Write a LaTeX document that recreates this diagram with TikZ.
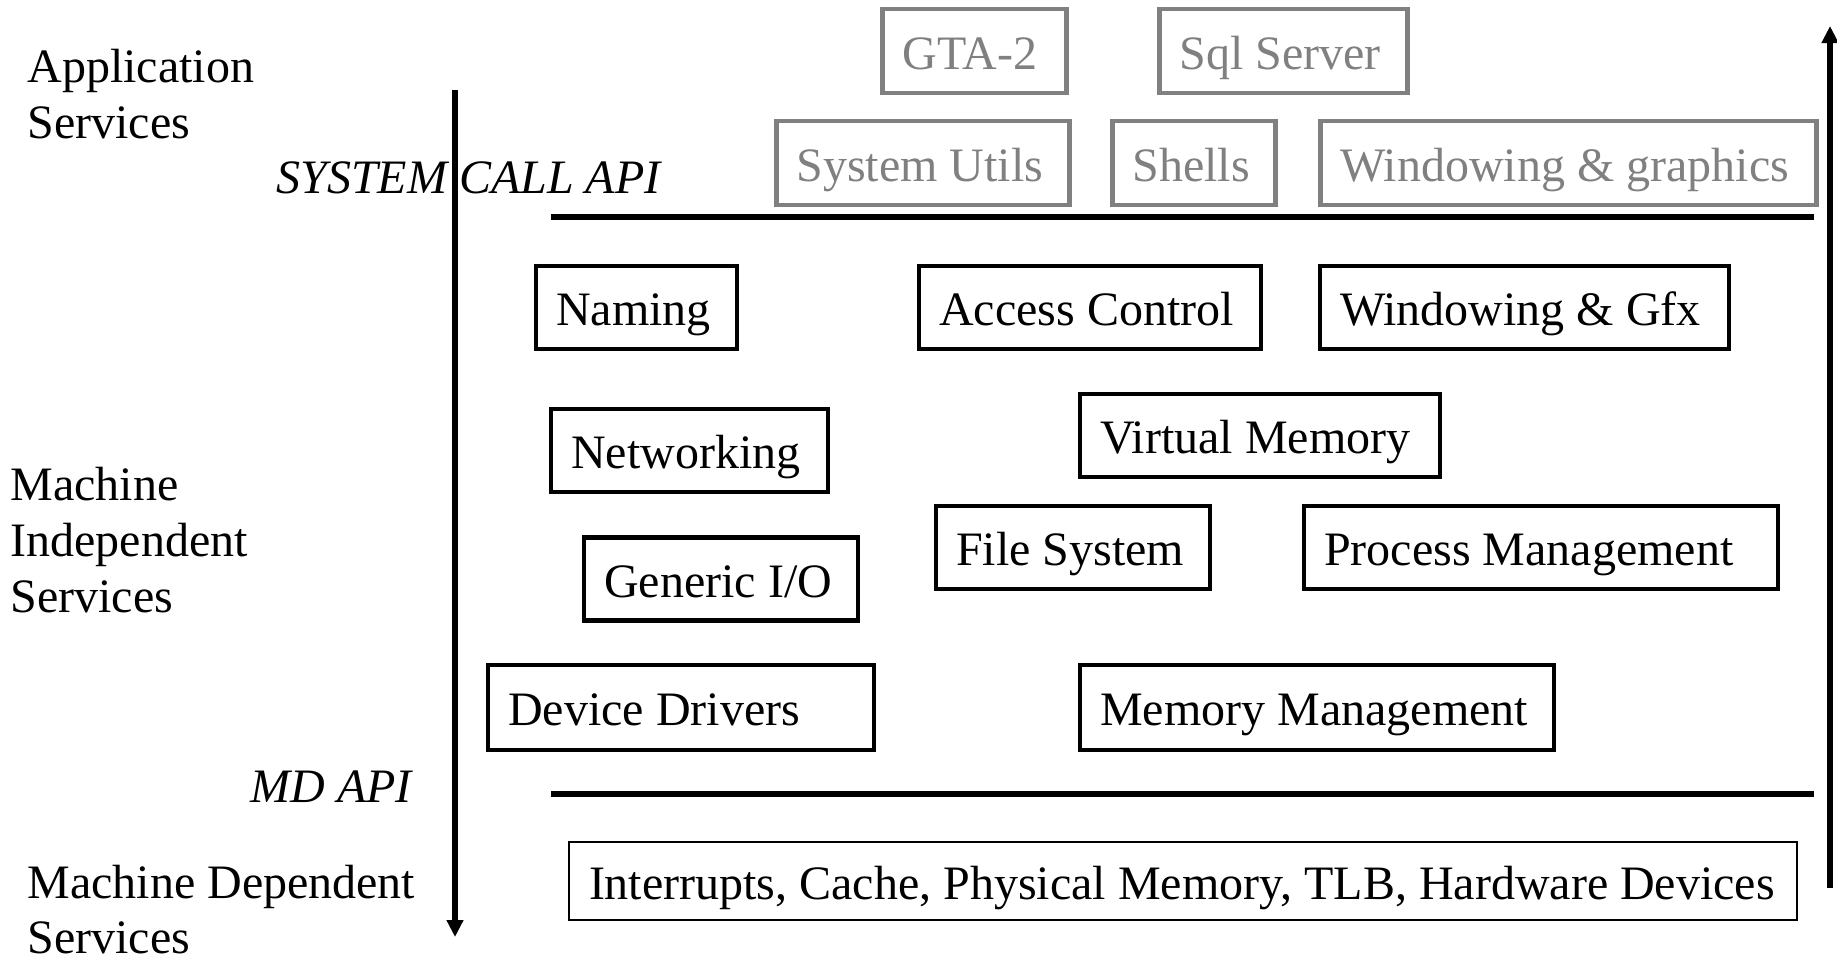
\documentclass[tikz,border=0pt]{standalone}
\usepackage{fontspec}
\setmainfont{Liberation Serif}
\usetikzlibrary{arrows.meta}
\definecolor{boxgray}{RGB}{128,128,128}
\newcommand{\bx}[7]{%
  \pgfmathsetmacro\bxtw{#4*0.5-20}%
  \node[#7, minimum width=#4*0.5pt, minimum height=#5*0.5pt] (#1) at (#2,#3) {\makebox[\bxtw pt][l]{#6}};}
\begin{document}
\begin{tikzpicture}[x=0.5pt, y=-0.5pt,
  basebox/.style={anchor=west, inner xsep=10pt, inner ysep=0pt,
    text height=19.5pt, text depth=1.5pt, font=\fontsize{24}{28}\selectfont},
  gbox/.style={basebox, draw=boxgray, text=boxgray, line width=2.4pt},
  bbox/.style={basebox, draw=black, line width=2.1pt},
  hwbox/.style={basebox, draw=black, line width=1pt},
  lbl/.style={anchor=base west, inner sep=0pt, font=\fontsize{24}{28}\selectfont},
  ilbl/.style={lbl, font=\fontsize{24}{28}\selectfont\itshape},
  apiline/.style={line width=2.7pt},
  axis/.style={line width=2.6pt, -{Triangle[length=8.5pt, width=8pt]}}]
\useasboundingbox (0,0) rectangle (1837,960);
% application boxes (gray)
\bx{gta}{880}{51}{184}{84}{GTA-2}{gbox}
\bx{sql}{1157}{51}{248}{84}{Sql Server}{gbox}
\bx{utils}{774}{163}{293}{84}{System Utils}{gbox}
\bx{shells}{1110}{163}{163}{84}{Shells}{gbox}
\bx{wgr}{1318}{163}{496}{84}{Windowing \& graphics}{gbox}
% machine independent boxes
\bx{naming}{534}{307.5}{201}{83}{Naming}{bbox}
\bx{access}{917}{307.5}{342}{83}{Access Control}{bbox}
\bx{wgfx}{1318}{307.5}{409}{83}{Windowing \& Gfx}{bbox}
\bx{net}{549}{450.5}{277}{83}{Networking}{bbox}
\bx{vm}{1078}{435.5}{360}{83}{Virtual Memory}{bbox}
\bx{gio}{582}{579}{274}{83}{Generic I/O}{bbox}
\bx{fs}{934}{547.5}{274}{83}{File System}{bbox}
\bx{pm}{1302}{547.5}{474}{83}{Process Management}{bbox}
\bx{dd}{486}{707.5}{386}{85}{Device Drivers}{bbox}
\bx{mm}{1078}{707.5}{474}{85}{Memory Management}{bbox}
% machine dependent
\bx{hw}{568}{881}{1228}{78}{Interrupts, Cache, Physical Memory, TLB, Hardware Devices}{hwbox}
% API lines
\coordinate (sc1) at (551,217);
\coordinate (sc2) at (1814,217);
\draw[apiline] (sc1) -- (sc2);
\coordinate (md1) at (551,794);
\coordinate (md2) at (1814,794);
\draw[apiline] (md1) -- (md2);
% labels
\node[lbl] (app1) at (27,82) {Application};
\node[lbl] (app2) at (27,138) {Services};
\node[ilbl] (sclbl) at (276,193) {SYSTEM CALL API};
\node[lbl] (mi1) at (10,500) {Machine};
\node[lbl] (mi2) at (10,556) {Independent};
\node[lbl] (mi3) at (10,612) {Services};
\node[ilbl] (mdlbl) at (250,802) {MD API};
\node[lbl] (mdd1) at (27,898) {Machine Dependent};
\node[lbl] (mdd2) at (27,953) {Services};
% axes
\coordinate (dtop) at (455,90);
\coordinate (dbot) at (455,937);
\draw[axis] (dtop) -- (dbot);
\coordinate (ubot) at (1830,888);
\coordinate (utop) at (1830,26);
\draw[axis] (ubot) -- (utop);
\end{tikzpicture}
\end{document}
